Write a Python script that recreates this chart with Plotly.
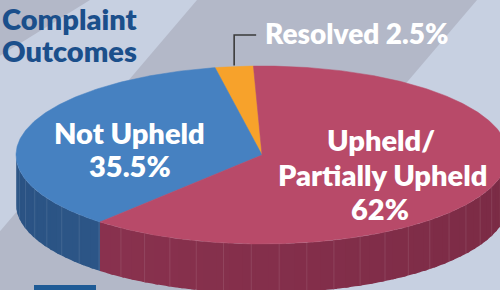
import numpy as np
import plotly.graph_objects as go

# ---- data ----
categories = ["Resolved", "Not Upheld", "Upheld/", "Partially Upheld"]
values = [2.5, 35.5, 62.0]
value_labels = ["2.5%", "35.5%", "62%"]
top_colors = ["#f7a22b", "#4681c1", "#b84a69"]
side_from = ["#c47d1f", "#2a5283", "#8f3452"]
side_to = ["#c47d1f", "#325f91", "#792a44"]
title_lines = ["Complaint", "Outcomes"]

# ---- geometry (pixel space) ----
W, H = 500, 290
CX, CY, RX, RY, DEPTH = 262, 155, 246, 89, 49
START = 92.0


def ell(t_deg, dy=0.0):
    t = np.radians(t_deg)
    return CX + RX * np.cos(t), CY - RY * np.sin(t) + dy


def hex2rgb(h):
    h = h.lstrip("#")
    return [int(h[i:i + 2], 16) for i in (0, 2, 4)]


def mix(c1, c2, f):
    a, b = hex2rgb(c1), hex2rgb(c2)
    return "rgb(%d,%d,%d)" % tuple(round(a[i] + (b[i] - a[i]) * f) for i in range(3))


fig = go.Figure()

total = sum(values)
bounds = []
a = START
for v in values:
    b = a + 360.0 * v / total
    bounds.append((a, b))
    a = b

# sides (front half only)
for i, (a0, a1) in enumerate(bounds):
    for base in (180.0, 540.0):
        lo, hi = max(a0, base), min(a1, base + 180.0)
        if hi <= lo:
            continue
        n = max(2, int((hi - lo) / 3))
        edges = np.linspace(lo, hi, n + 1)
        for k in range(n):
            e1 = min(edges[k + 1] + 1.0, hi)
            ts = np.linspace(edges[k], e1, 6)
            xt, yt = ell(ts)
            xb, yb = ell(ts[::-1], DEPTH)
            xs = np.concatenate([xt, xb, xt[:1]])
            ys = np.concatenate([yt, yb, yt[:1]])
            f = ((edges[k] + edges[k + 1]) / 2 - base) / 180.0
            col = mix(side_from[i], side_to[i], f)
            fig.add_trace(go.Scatter(x=xs, y=ys, mode="none", fill="toself",
                                     fillcolor=col, hoverinfo="skip", showlegend=False))

# faint vertical seams on the side wall
for t in np.arange(183.0, 360.0, 6.5):
    x0, y0 = ell(t)
    x1, y1 = ell(t, DEPTH)
    fig.add_trace(go.Scatter(x=[x0, x1], y=[y0, y1], mode="lines",
                             line=dict(color="rgba(255,255,255,0.10)", width=1),
                             hoverinfo="skip", showlegend=False))

# top faces
for i, (a0, a1) in enumerate(bounds):
    ts = np.linspace(a0, a1, max(8, int(a1 - a0) * 2))
    xa, ya = ell(ts)
    xs = np.concatenate([[CX], xa, [CX]])
    ys = np.concatenate([[CY], ya, [CY]])
    fig.add_trace(go.Scatter(x=xs, y=ys, mode="lines", fill="toself",
                             fillcolor=top_colors[i], line=dict(color=top_colors[i], width=0.5),
                             hoverinfo="skip", showlegend=False))

# leader line for the small slice
mid0 = (bounds[0][0] + bounds[0][1]) / 2
lx, ly = ell(mid0)
fig.add_trace(go.Scatter(x=[lx, lx, lx + 22], y=[ly - 1, 35, 35], mode="lines",
                         line=dict(color="#3a3a3a", width=1.6),
                         hoverinfo="skip", showlegend=False))

LIGHT = "#c7d0e1"
DARK = "#b3b8c8"
shapes = [
    dict(type="rect", x0=0, x1=W, y0=0, y1=H, fillcolor=DARK, line_width=0, layer="below"),
    dict(type="path", path="M 90 0 L 197 0 L -50 290 L -200 290 L -200 180 Z",
         fillcolor=LIGHT, line_width=0, layer="below"),
    dict(type="path", path="M 477 0 L 600 0 L 600 290 L 230 290 Z",
         fillcolor=LIGHT, line_width=0, layer="below"),
    dict(type="rect", x0=34, x1=96, y0=285, y1=300, fillcolor="#1f5b96",
         line_width=0, layer="below"),
]

FONT = "Lato"
anns = [
    dict(x=356, y=33, text="%s %s" % (categories[0], value_labels[0]), size=28),
    dict(x=129, y=132, text=categories[1], size=29),
    dict(x=130, y=165, text=value_labels[1], size=29),
    dict(x=381, y=139, text=categories[2], size=29),
    dict(x=382, y=174, text=categories[3], size=29),
    dict(x=380, y=208, text=value_labels[2], size=29),
]
for an in anns:
    sz = an.pop("size")
    an.update(xanchor="center", yanchor="middle",
              font=dict(family=FONT, size=sz, color="white", weight=800))
anns += [
    dict(x=0, y=18, text=title_lines[0], xanchor="left", yanchor="middle",
         font=dict(family=FONT, size=29, color="#1b4f8b", weight=800)),
    dict(x=0, y=50, text=title_lines[1], xanchor="left", yanchor="middle",
         font=dict(family=FONT, size=29, color="#1b4f8b", weight=800)),
]
for an in anns:
    an.update(xref="x", yref="y", showarrow=False)

fig.update_layout(
    width=W, height=H, margin=dict(l=0, r=0, t=0, b=0),
    paper_bgcolor=DARK, plot_bgcolor="rgba(0,0,0,0)",
    xaxis=dict(range=[0, W], visible=False, fixedrange=True),
    yaxis=dict(range=[H, 0], visible=False, fixedrange=True),
    shapes=shapes, annotations=anns, showlegend=False,
)

fig.write_html("out.html", config={"displayModeBar": False},
               post_script="document.body.style.margin='0';document.body.style.overflow='hidden';")
